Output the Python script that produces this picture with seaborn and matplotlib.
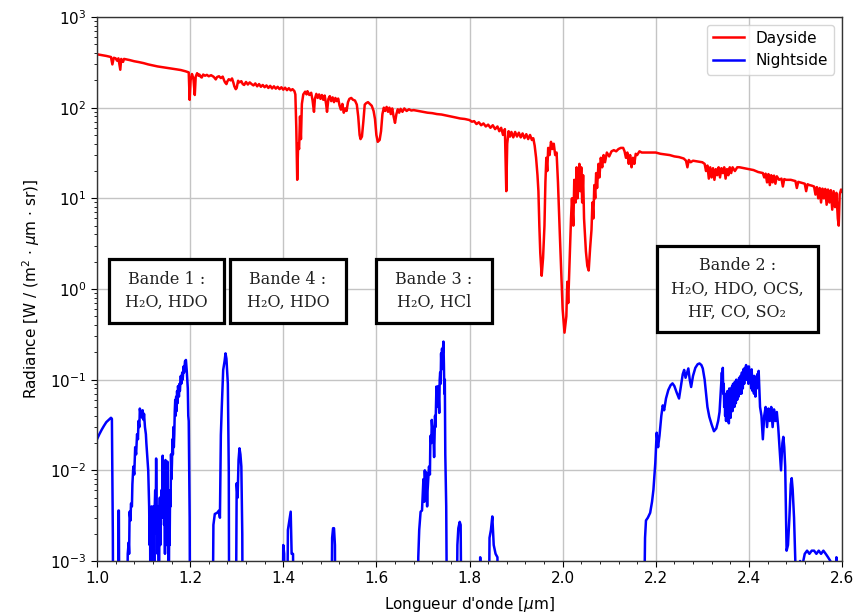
import matplotlib
matplotlib.use("Agg")
import matplotlib.pyplot as plt
from matplotlib.patches import Rectangle
from matplotlib.ticker import MultipleLocator
import pandas as pd
import seaborn as sns

# ---------------------------------------------------------------------------
# Dayside radiance spectrum: (wavelength in µm, radiance in W / (m² µm sr))
# ---------------------------------------------------------------------------
day_points = [
    (1.000, 388), (1.010, 380), (1.020, 372), (1.030, 362), (1.033, 300),
    (1.036, 355), (1.040, 350), (1.043, 330), (1.046, 350), (1.050, 262),
    (1.052, 345), (1.056, 320), (1.058, 345), (1.070, 335), (1.080, 325),
    (1.090, 318), (1.100, 310), (1.110, 300), (1.120, 292), (1.130, 285),
    (1.140, 280), (1.150, 275), (1.160, 270), (1.170, 265), (1.180, 260),
    (1.190, 252), (1.197, 245), (1.199, 122), (1.201, 200), (1.204, 235),
    (1.207, 210), (1.210, 138), (1.212, 220), (1.215, 240), (1.218, 225),
    (1.220, 232), (1.223, 218), (1.225, 215), (1.228, 232), (1.232, 225),
    (1.236, 230), (1.240, 222), (1.245, 228), (1.250, 220), (1.253, 212),
    (1.255, 205), (1.258, 218), (1.262, 222), (1.266, 212), (1.270, 220),
    (1.273, 200), (1.275, 190), (1.278, 182), (1.280, 195), (1.283, 206),
    (1.287, 200), (1.290, 210), (1.293, 188), (1.295, 172), (1.298, 160),
    (1.300, 165), (1.303, 198), (1.306, 190), (1.310, 196), (1.313, 182),
    (1.316, 178), (1.320, 192), (1.324, 180), (1.328, 190), (1.332, 182),
    (1.336, 176), (1.340, 185), (1.344, 172), (1.348, 182), (1.352, 170),
    (1.356, 178), (1.360, 168), (1.364, 176), (1.368, 165), (1.372, 174),
    (1.376, 163), (1.380, 172), (1.384, 162), (1.388, 170), (1.392, 160),
    (1.396, 168), (1.400, 158), (1.404, 166), (1.408, 156), (1.412, 164),
    (1.416, 155), (1.420, 160), (1.424, 152), (1.426, 140), (1.428, 60),
    (1.430, 16), (1.432, 40), (1.434, 35), (1.436, 80), (1.438, 45),
    (1.440, 110), (1.443, 140), (1.447, 150), (1.450, 140), (1.452, 152),
    (1.456, 138), (1.460, 146), (1.463, 120), (1.466, 90), (1.468, 125),
    (1.471, 142), (1.474, 128), (1.477, 140), (1.480, 125), (1.483, 138),
    (1.486, 122), (1.489, 136), (1.492, 110), (1.494, 90), (1.497, 125),
    (1.500, 134), (1.503, 118), (1.506, 130), (1.509, 115), (1.512, 128),
    (1.515, 118), (1.518, 126), (1.521, 105), (1.524, 95), (1.527, 110),
    (1.530, 88), (1.533, 98), (1.536, 92), (1.539, 115), (1.542, 125),
    (1.546, 128), (1.550, 122), (1.554, 120), (1.558, 108), (1.561, 80),
    (1.564, 50), (1.566, 45), (1.569, 48), (1.572, 70), (1.575, 108),
    (1.578, 112), (1.582, 115), (1.586, 110), (1.590, 105), (1.594, 92),
    (1.597, 75), (1.600, 50), (1.603, 42), (1.607, 44), (1.610, 55),
    (1.613, 85), (1.616, 100), (1.619, 92), (1.622, 102), (1.625, 90),
    (1.628, 100), (1.631, 85), (1.634, 98), (1.637, 80), (1.640, 68),
    (1.643, 85), (1.646, 96), (1.649, 88), (1.652, 97), (1.656, 90),
    (1.660, 98), (1.665, 92), (1.670, 96), (1.675, 93), (1.680, 94),
    (1.690, 92), (1.700, 90), (1.710, 88), (1.720, 87), (1.730, 85),
    (1.740, 84), (1.750, 82), (1.760, 80), (1.770, 78), (1.780, 76),
    (1.790, 75), (1.800, 73), (1.805, 70), (1.810, 71), (1.815, 66),
    (1.820, 69), (1.825, 64), (1.830, 67), (1.835, 62), (1.840, 65),
    (1.845, 60), (1.850, 64), (1.855, 58), (1.860, 62), (1.864, 55),
    (1.868, 60), (1.872, 50), (1.876, 58), (1.879, 12), (1.881, 40),
    (1.884, 55), (1.887, 48), (1.890, 54), (1.894, 47), (1.898, 54),
    (1.902, 48), (1.906, 53), (1.910, 47), (1.914, 52), (1.918, 46),
    (1.922, 51), (1.926, 45), (1.930, 50), (1.934, 44), (1.937, 46),
    (1.940, 38), (1.943, 28), (1.946, 18), (1.948, 12), (1.950, 5),
    (1.952, 2.5), (1.955, 1.4), (1.958, 2.2), (1.961, 5), (1.963, 15),
    (1.965, 28), (1.967, 20), (1.969, 36), (1.972, 30), (1.975, 42),
    (1.978, 35), (1.981, 40), (1.984, 30), (1.987, 32), (1.990, 15),
    (1.992, 8), (1.994, 4), (1.997, 1.5), (2.000, 0.6), (2.004, 0.33),
    (2.008, 0.5), (2.010, 1.2), (2.012, 0.7), (2.015, 2), (2.018, 6),
    (2.020, 10), (2.023, 5), (2.025, 16), (2.028, 9), (2.030, 22),
    (2.032, 10), (2.034, 14), (2.036, 24), (2.038, 12), (2.040, 22),
    (2.042, 9), (2.044, 18), (2.046, 6), (2.048, 4), (2.050, 2.6),
    (2.053, 1.8), (2.056, 1.6), (2.059, 2.8), (2.062, 4.5), (2.064, 9),
    (2.066, 6), (2.068, 14), (2.070, 10), (2.072, 19), (2.074, 13),
    (2.077, 24), (2.079, 17), (2.082, 28), (2.085, 22), (2.088, 30),
    (2.091, 25), (2.095, 32), (2.100, 29), (2.105, 33), (2.110, 34),
    (2.115, 33), (2.120, 35), (2.125, 36), (2.130, 36), (2.133, 33),
    (2.136, 28), (2.139, 32), (2.142, 24), (2.145, 30), (2.148, 22),
    (2.151, 28), (2.154, 24), (2.157, 31), (2.160, 30), (2.165, 33),
    (2.170, 32), (2.180, 32), (2.190, 32), (2.200, 32), (2.210, 31),
    (2.220, 30.5), (2.230, 30), (2.240, 29), (2.250, 28.5), (2.260, 27.5),
    (2.265, 26), (2.268, 22), (2.271, 26.5), (2.275, 25), (2.280, 26),
    (2.290, 25.5), (2.300, 25), (2.305, 24), (2.308, 20), (2.311, 23),
    (2.314, 16.5), (2.317, 22), (2.320, 17), (2.323, 21.5), (2.326, 16),
    (2.329, 21), (2.332, 18), (2.335, 22), (2.338, 17), (2.341, 21.5),
    (2.344, 19), (2.347, 22), (2.350, 16.5), (2.353, 21), (2.356, 18),
    (2.359, 22), (2.362, 19), (2.365, 22), (2.370, 20), (2.375, 22),
    (2.380, 22), (2.390, 21.5), (2.400, 21), (2.410, 20.5), (2.420, 19.5),
    (2.430, 19), (2.433, 17), (2.436, 18.7), (2.439, 15), (2.442, 18.5),
    (2.445, 14), (2.448, 18), (2.451, 15), (2.454, 17.8), (2.457, 14.5),
    (2.460, 17.5), (2.465, 16), (2.470, 16.5), (2.473, 13.5), (2.476, 16.3),
    (2.480, 16), (2.490, 16), (2.500, 15.5), (2.503, 13), (2.506, 15.2),
    (2.510, 15), (2.520, 14.5), (2.523, 12), (2.526, 14.3), (2.530, 14),
    (2.535, 13.8), (2.540, 13.5), (2.543, 11), (2.546, 13.3), (2.549, 10),
    (2.552, 13), (2.555, 9), (2.558, 12.8), (2.561, 10), (2.564, 12.7),
    (2.567, 8.5), (2.570, 12.5), (2.573, 9), (2.576, 12.3), (2.579, 7.5),
    (2.582, 12), (2.585, 8), (2.588, 11.5), (2.591, 6), (2.593, 5),
    (2.595, 11), (2.598, 12.5), (2.600, 12),
]

# ---------------------------------------------------------------------------
# Nightside radiance spectrum (1e-4 marks stretches below the plotted floor)
# ---------------------------------------------------------------------------
night_points = [
    (1.000, 0.022), (1.005, 0.025), (1.010, 0.028), (1.015, 0.031),
    (1.020, 0.034), (1.025, 0.036), (1.030, 0.038), (1.032, 0.037),
    (1.034, 0.002), (1.035, 1e-4), (1.045, 1e-4), (1.046, 0.0036),
    (1.047, 0.0036), (1.048, 1e-4), (1.064, 1e-4), (1.066, 0.0012),
    (1.068, 0.0016), (1.069, 0.0012), (1.070, 0.0035), (1.072, 0.0028),
    (1.073, 0.0043), (1.075, 0.004), (1.076, 0.007), (1.078, 0.011),
    (1.080, 0.009), (1.082, 0.018), (1.084, 0.015), (1.086, 0.025),
    (1.088, 0.022), (1.089, 0.035), (1.091, 0.030), (1.092, 0.048),
    (1.094, 0.040), (1.095, 0.045), (1.097, 0.038), (1.098, 0.046),
    (1.100, 0.036), (1.101, 0.042), (1.103, 0.030), (1.105, 0.025),
    (1.106, 0.020), (1.108, 0.014), (1.110, 0.010), (1.112, 0.004),
    (1.113, 0.0015), (1.114, 0.003), (1.115, 1e-4), (1.117, 0.004),
    (1.118, 0.0015), (1.119, 0.0025), (1.120, 1e-4), (1.121, 0.004),
    (1.122, 0.002), (1.123, 1e-4), (1.124, 0.004), (1.125, 0.006),
    (1.126, 0.002), (1.127, 0.0135), (1.128, 0.004), (1.129, 0.003),
    (1.130, 0.0012), (1.131, 0.004), (1.133, 1e-4), (1.134, 0.003),
    (1.135, 0.005), (1.136, 0.0015), (1.137, 0.004), (1.139, 0.0061),
    (1.140, 0.003), (1.141, 0.0145), (1.142, 0.006), (1.143, 0.012),
    (1.144, 0.0025), (1.145, 0.005), (1.146, 0.0012), (1.147, 0.013),
    (1.148, 0.004), (1.149, 0.007), (1.150, 0.0015), (1.151, 0.0125),
    (1.152, 0.004), (1.153, 0.002), (1.154, 1e-4), (1.155, 0.003),
    (1.156, 0.0015), (1.157, 0.006), (1.158, 0.004), (1.159, 0.015),
    (1.160, 0.008), (1.161, 0.012), (1.162, 0.022), (1.163, 0.015),
    (1.164, 0.030), (1.165, 0.018), (1.166, 0.025), (1.167, 0.045),
    (1.168, 0.060), (1.169, 0.040), (1.170, 0.065), (1.171, 0.045),
    (1.172, 0.075), (1.173, 0.055), (1.174, 0.085), (1.176, 0.065),
    (1.177, 0.090), (1.178, 0.075), (1.180, 0.110), (1.181, 0.090),
    (1.183, 0.120), (1.184, 0.100), (1.186, 0.140), (1.187, 0.120),
    (1.189, 0.160), (1.191, 0.165), (1.192, 0.140), (1.193, 0.120),
    (1.195, 0.080), (1.196, 0.040), (1.197, 0.035), (1.199, 0.003),
    (1.200, 1e-4), (1.248, 1e-4), (1.250, 0.0025), (1.253, 0.0033),
    (1.258, 0.0034), (1.262, 0.0036), (1.264, 0.003), (1.266, 0.0245),
    (1.268, 0.050), (1.271, 0.128), (1.274, 0.160), (1.276, 0.195),
    (1.278, 0.170), (1.281, 0.090), (1.283, 0.010), (1.284, 1e-4),
    (1.298, 1e-4), (1.300, 0.0072), (1.302, 0.005), (1.304, 0.013),
    (1.306, 0.0175), (1.308, 0.015), (1.310, 0.011), (1.312, 0.002),
    (1.313, 1e-4), (1.398, 1e-4), (1.400, 0.0015), (1.402, 0.0012),
    (1.404, 1e-4), (1.408, 1e-4), (1.410, 0.0022), (1.413, 0.0028),
    (1.416, 0.0035), (1.418, 0.0012), (1.421, 0.0012), (1.423, 1e-4),
    (1.503, 1e-4), (1.505, 0.0018), (1.507, 0.0023), (1.509, 0.0023),
    (1.511, 0.0015), (1.512, 1e-4), (1.688, 1e-4), (1.690, 0.0011),
    (1.692, 0.0022), (1.695, 0.0035), (1.698, 0.0036), (1.700, 0.006),
    (1.701, 0.008), (1.703, 0.0045), (1.704, 0.010), (1.706, 0.0055),
    (1.707, 0.0095), (1.709, 0.004), (1.710, 0.006), (1.712, 0.009),
    (1.713, 0.011), (1.715, 0.009), (1.716, 0.024), (1.718, 0.020),
    (1.719, 0.036), (1.721, 0.025), (1.722, 0.030), (1.724, 0.014),
    (1.726, 0.040), (1.727, 0.030), (1.729, 0.084), (1.730, 0.050),
    (1.732, 0.060), (1.733, 0.085), (1.735, 0.043), (1.736, 0.100),
    (1.737, 0.120), (1.738, 0.090), (1.739, 0.195), (1.740, 0.130),
    (1.741, 0.220), (1.742, 0.170), (1.744, 0.263), (1.745, 0.150),
    (1.746, 0.070), (1.747, 0.100), (1.748, 0.015), (1.750, 0.004),
    (1.752, 1e-4), (1.772, 1e-4), (1.774, 0.0015), (1.776, 0.0023),
    (1.779, 0.0027), (1.781, 0.0025), (1.783, 1e-4), (1.821, 1e-4),
    (1.823, 0.0011), (1.825, 1e-4), (1.841, 1e-4), (1.843, 0.0018),
    (1.846, 0.0022), (1.849, 0.0031), (1.852, 0.0015), (1.856, 0.0012),
    (1.860, 0.0011), (1.862, 1e-4), (2.174, 1e-4), (2.177, 0.0018),
    (2.179, 0.0028), (2.183, 0.0030), (2.188, 0.0034), (2.192, 0.0045),
    (2.195, 0.0061), (2.199, 0.012), (2.202, 0.026), (2.205, 0.018),
    (2.208, 0.024), (2.212, 0.040), (2.215, 0.052), (2.218, 0.046),
    (2.222, 0.062), (2.227, 0.077), (2.232, 0.087), (2.236, 0.091),
    (2.240, 0.085), (2.245, 0.072), (2.250, 0.062), (2.254, 0.085),
    (2.258, 0.115), (2.261, 0.128), (2.264, 0.105), (2.267, 0.118),
    (2.270, 0.133), (2.273, 0.100), (2.276, 0.083), (2.280, 0.110),
    (2.285, 0.135), (2.290, 0.148), (2.294, 0.151), (2.298, 0.145),
    (2.301, 0.133), (2.305, 0.100), (2.308, 0.071), (2.311, 0.050),
    (2.315, 0.039), (2.320, 0.032), (2.325, 0.027), (2.330, 0.029),
    (2.334, 0.035), (2.337, 0.044), (2.340, 0.080), (2.342, 0.120),
    (2.343, 0.090), (2.344, 0.135), (2.345, 0.070), (2.346, 0.090),
    (2.347, 0.050), (2.348, 0.070), (2.349, 0.040), (2.350, 0.065),
    (2.351, 0.035), (2.352, 0.070), (2.353, 0.040), (2.354, 0.075),
    (2.355, 0.035), (2.356, 0.070), (2.357, 0.033), (2.358, 0.080),
    (2.359, 0.040), (2.360, 0.075), (2.361, 0.038), (2.362, 0.080),
    (2.363, 0.045), (2.364, 0.085), (2.365, 0.045), (2.366, 0.090),
    (2.367, 0.050), (2.368, 0.085), (2.369, 0.050), (2.370, 0.095),
    (2.372, 0.055), (2.373, 0.100), (2.375, 0.060), (2.376, 0.090),
    (2.378, 0.065), (2.379, 0.105), (2.381, 0.070), (2.382, 0.110),
    (2.384, 0.070), (2.385, 0.120), (2.387, 0.080), (2.388, 0.130),
    (2.390, 0.090), (2.391, 0.135), (2.393, 0.100), (2.394, 0.145),
    (2.396, 0.100), (2.397, 0.130), (2.399, 0.090), (2.400, 0.140),
    (2.402, 0.100), (2.403, 0.120), (2.405, 0.080), (2.406, 0.130),
    (2.408, 0.075), (2.409, 0.110), (2.411, 0.070), (2.412, 0.110),
    (2.414, 0.065), (2.415, 0.090), (2.417, 0.080), (2.418, 0.115),
    (2.420, 0.090), (2.421, 0.125), (2.423, 0.070), (2.424, 0.050),
    (2.427, 0.040), (2.430, 0.022), (2.433, 0.040), (2.436, 0.050),
    (2.439, 0.030), (2.442, 0.048), (2.445, 0.035), (2.448, 0.050),
    (2.451, 0.030), (2.454, 0.047), (2.457, 0.035), (2.460, 0.044),
    (2.463, 0.030), (2.466, 0.017), (2.469, 0.010), (2.472, 0.020),
    (2.474, 0.0234), (2.476, 0.018), (2.478, 0.011), (2.481, 0.0013),
    (2.484, 0.0015), (2.487, 0.003), (2.490, 0.007), (2.492, 0.0082),
    (2.494, 0.0062), (2.497, 0.003), (2.500, 0.0009), (2.505, 0.0008),
    (2.510, 0.0010), (2.515, 0.0009), (2.520, 0.0012), (2.525, 0.0013),
    (2.530, 0.0012), (2.535, 0.0013), (2.540, 0.0013), (2.545, 0.0012),
    (2.550, 0.0013), (2.555, 0.0012), (2.560, 0.0013), (2.565, 0.0012),
    (2.570, 0.0011), (2.575, 0.0010), (2.578, 1e-4), (2.586, 1e-4),
    (2.588, 0.0011), (2.590, 1e-4), (2.600, 1e-4),
]

series_names = ["Dayside", "Nightside"]
series_colors = ["#ff0000", "#0000ff"]

band_texts = [
    "Bande 1 :\nH\u2082O, HDO",
    "Bande 4 :\nH\u2082O, HDO",
    "Bande 3 :\nH\u2082O, HCl",
    "Bande 2 :\nH\u2082O, HDO, OCS,\nHF, CO, SO\u2082",
]

x_label = "Longueur d'onde [$\\mu$m]"
y_label = "Radiance [W / (m$^2$ $\\cdot$ $\\mu$m $\\cdot$ sr)]"

day = pd.DataFrame(day_points, columns=["wavelength", "radiance"])
night = pd.DataFrame(night_points, columns=["wavelength", "radiance"])

plt.rcParams.update({
    "font.size": 11,
    "xtick.major.size": 4,
    "ytick.major.size": 4,
    "xtick.minor.size": 2.3,
    "ytick.minor.size": 2.3,
})
plt.rcParams["font.family"] = ["DejaVu Sans"]

W, H = 856, 615
fig = plt.figure(figsize=(W / 100, H / 100), dpi=100)
ax = fig.add_axes([97 / W, 1 - 561 / H, (842 - 97) / W, (561 - 17) / H])

for df, name, color in zip([day, night], series_names, series_colors):
    sns.lineplot(data=df, x="wavelength", y="radiance", ax=ax, color=color,
                 linewidth=1.8, sort=False, estimator=None, label=name)

ax.set_yscale("log")
ax.set_xlim(1.0, 2.6)
ax.set_ylim(1e-3, 1e3)
ax.xaxis.set_major_locator(MultipleLocator(0.2))
ax.xaxis.set_minor_locator(MultipleLocator(0.04))
ax.grid(True, which="major", color="#c4c4c4", linewidth=1.0)
ax.set_axisbelow(True)
ax.set_xlabel(x_label, fontsize=11, labelpad=6)
ax.set_ylabel(y_label, fontsize=11, labelpad=6)
for s in ax.spines.values():
    s.set_color("#333333")
    s.set_linewidth(1.0)
ax.legend(loc="upper right", fontsize=11, handlelength=2.0)

# Text boxes naming the spectral bands and their absorbers (pixel frames)
box_frames = [(109, 259, 224, 323), (230, 259, 346, 323),
              (376, 259, 492, 323), (657, 246, 818, 332)]
for (x0, y0, x1, y1), txt in zip(box_frames, band_texts):
    fig.add_artist(Rectangle((x0 / W, 1 - y1 / H), (x1 - x0) / W, (y1 - y0) / H,
                             transform=fig.transFigure, facecolor="white",
                             edgecolor="black", linewidth=2.3, zorder=5))
    fig.text((x0 + x1) / 2 / W, 1 - (y0 + y1) / 2 / H, txt,
             ha="center", va="center", multialignment="center",
             family=["DejaVu Serif"], fontsize=11.5, linespacing=1.5,
             color="#222222", zorder=6)

fig.savefig("out.png", dpi=100)
